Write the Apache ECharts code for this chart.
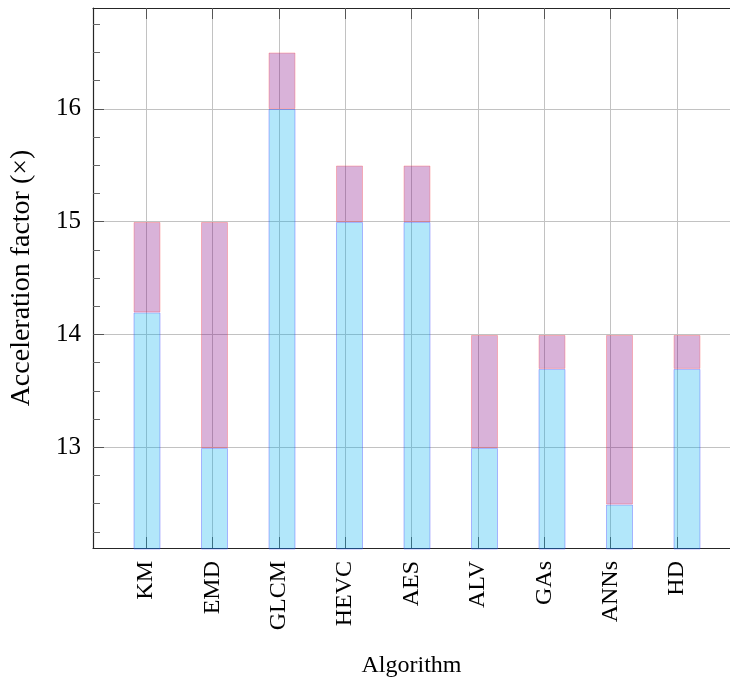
<!DOCTYPE html>
<html><head><meta charset="utf-8">
<script src="https://cdn.jsdelivr.net/npm/echarts@6/dist/echarts.min.js"></script>
<style>html,body{margin:0;padding:0;background:#fff}#c{width:730px;height:683px}</style>
</head><body><div id="c"></div>
<script>
const categories = ['KM','EMD','GLCM','HEVC','AES','ALV','GAs','ANNs','HD'];
const baseValues = [14.2, 13, 16, 15, 15, 13, 13.7, 12.5, 13.7];
const topValues  = [15, 15, 16.5, 15.5, 15.5, 14, 14, 14, 14];
const yMajorTicks = [13, 14, 15, 16];
const yMinorTicks = [12.25, 12.5, 12.75, 13.25, 13.5, 13.75, 14.25, 14.5, 14.75, 15.25, 15.5, 15.75, 16.25, 16.5, 16.75];
const xTicks = categories.map((c, i) => i);

const FONT = 'Liberation Serif';
const AX = '#262626';
const Y_MIN = 12.106, Y_MAX = 16.894;
const X_MIN = -0.8, X_MAX = 8.8;

const extraValues = categories.map((c, i) => +(topValues[i] - baseValues[i]).toFixed(4));

const chart = echarts.init(document.getElementById('c'), null, {renderer: 'canvas'});
chart.setOption({
  animation: false,
  backgroundColor: '#fff',
  grid: [
    {left: 93, top: 8, width: 648, height: 541, containLabel: false},
    {left: 113.25, top: 8, width: 607.5, height: 541, containLabel: false}
  ],
  xAxis: [{
    type: 'value', gridIndex: 0, position: 'bottom', min: X_MIN, max: X_MAX,
    name: 'Algorithm', nameLocation: 'middle', nameGap: 106,
    nameTextStyle: {fontFamily: FONT, fontSize: 24, color: '#000'},
    axisLine: {show: true, onZero: false, lineStyle: {color: AX, width: 1.2}},
    axisTick: {show: true, inside: true, length: 11, customValues: xTicks, lineStyle: {color: '#555', width: 1}},
    axisLabel: {show: true, customValues: xTicks, rotate: 90, margin: 13,
      fontFamily: FONT, fontSize: 24, color: '#000',
      formatter: v => categories[Math.round(v)] || ''},
    splitLine: {show: true, lineStyle: {color: '#c2c2c2', width: 1}}
  }, {
    type: 'value', gridIndex: 0, position: 'top', min: X_MIN, max: X_MAX,
    axisLine: {show: true, onZero: false, lineStyle: {color: AX, width: 1.2}},
    axisTick: {show: true, inside: true, length: 11, customValues: xTicks, lineStyle: {color: '#555', width: 1}},
    axisLabel: {show: false},
    splitLine: {show: false}
  }, {
    type: 'category', gridIndex: 1, data: categories, boundaryGap: true, show: false
  }],
  yAxis: [{
    type: 'value', gridIndex: 0, position: 'left', min: Y_MIN, max: Y_MAX,
    name: 'Acceleration factor (×)', nameLocation: 'middle', nameGap: 57, nameRotate: 90,
    nameTextStyle: {fontFamily: FONT, fontSize: 28, color: '#000'},
    axisLine: {show: true, onZero: false, lineStyle: {color: AX, width: 1.2}},
    axisTick: {show: true, inside: true, length: 11, customValues: yMajorTicks, lineStyle: {color: '#555', width: 1}},
    axisLabel: {show: true, customValues: yMajorTicks, margin: 12,
      fontFamily: FONT, fontSize: 25, color: '#000', formatter: v => String(v)},
    splitLine: {show: true, lineStyle: {color: '#c2c2c2', width: 1}}
  }, {
    type: 'value', gridIndex: 0, position: 'left', min: Y_MIN, max: Y_MAX,
    axisLine: {show: false, onZero: false},
    axisTick: {show: true, inside: true, length: 7, customValues: yMinorTicks, lineStyle: {color: '#666', width: 1}},
    axisLabel: {show: false},
    splitLine: {show: false}
  }, {
    type: 'value', gridIndex: 1, min: Y_MIN, max: Y_MAX, show: false,
    axisLine: {onZero: false}, splitLine: {show: false}
  }],
  series: [{
    type: 'bar', name: 'base', stack: 's', xAxisIndex: 2, yAxisIndex: 2,
    barWidth: 27, data: baseValues,
    itemStyle: {color: 'rgba(0,174,239,0.3)', borderColor: 'rgba(60,60,255,0.35)', borderWidth: 1}
  }, {
    type: 'bar', name: 'extra', stack: 's', xAxisIndex: 2, yAxisIndex: 2,
    barWidth: 27, data: extraValues,
    itemStyle: {color: 'rgba(128,0,128,0.3)', borderColor: 'rgba(255,60,60,0.3)', borderWidth: 1}
  }]
});
</script></body></html>
